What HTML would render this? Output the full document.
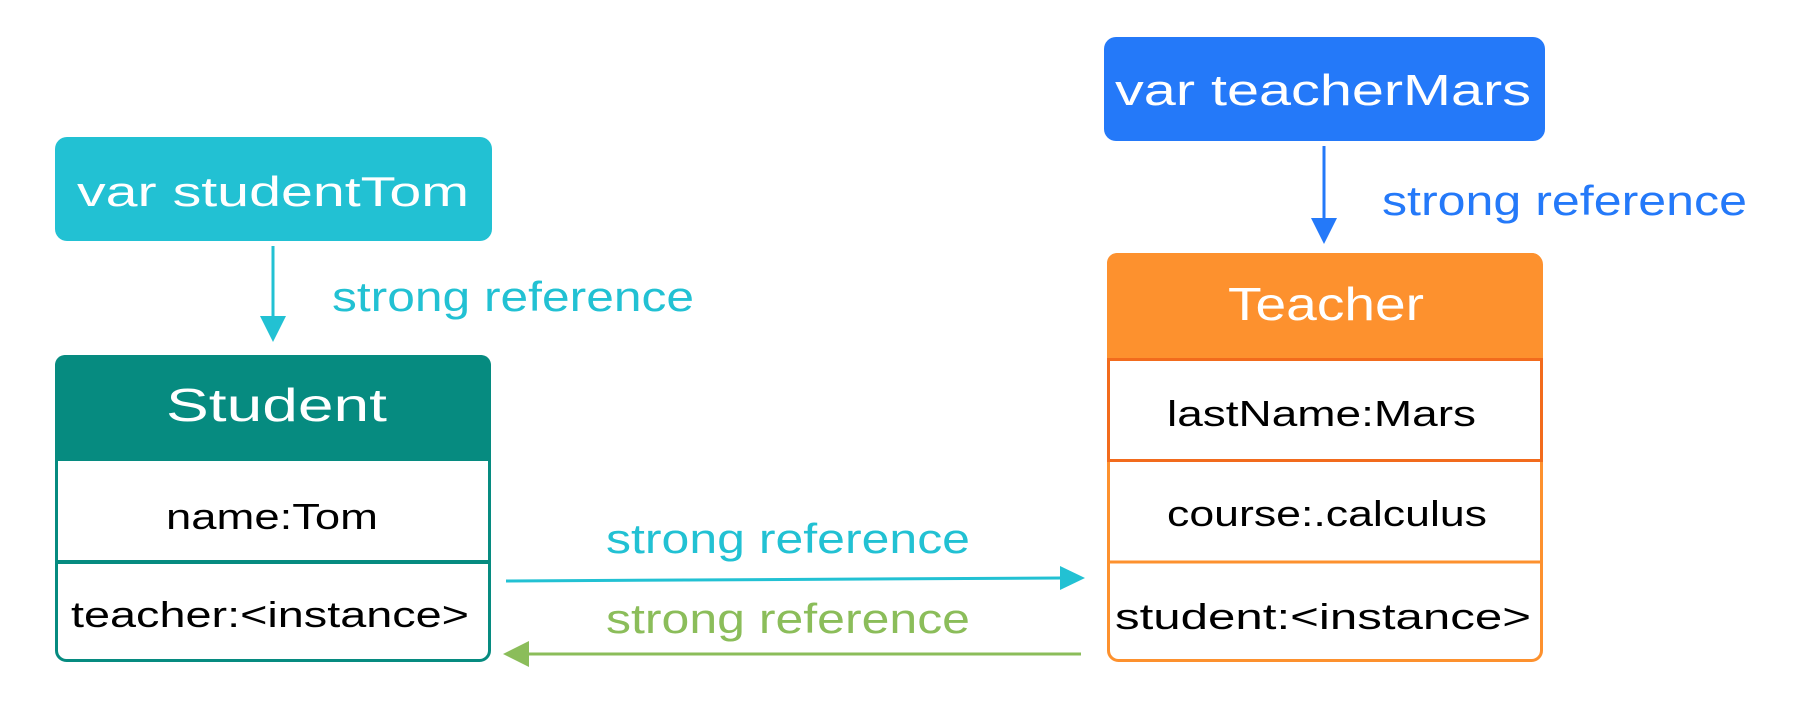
<!DOCTYPE html>
<html><head><meta charset="utf-8"><style>
html,body{margin:0;padding:0;background:#fff;}
svg{display:block;}
text{font-family:"Liberation Sans","DejaVu Sans",sans-serif;}
</style></head><body>
<svg width="1794" height="717" viewBox="0 0 1794 717" xmlns="http://www.w3.org/2000/svg">
<!-- var studentTom -->
<rect x="55" y="137" width="437" height="104" rx="12" fill="#22c1d3"/>
<text x="77" y="206" font-size="42" fill="#fff" textLength="392" lengthAdjust="spacingAndGlyphs">var studentTom</text>
<line x1="273" y1="246" x2="273" y2="318" stroke="#22c1d3" stroke-width="3"/>
<polygon points="260,316 286,316 273,342" fill="#22c1d3"/>
<text x="332" y="311" font-size="42" fill="#22c1d3" textLength="362" lengthAdjust="spacingAndGlyphs">strong reference</text>

<!-- Student -->
<rect x="56.5" y="356.5" width="433" height="304" rx="10" fill="#fff" stroke="#068b80" stroke-width="3"/>
<path d="M55,461 V365 a10,10 0 0 1 10,-10 H481 a10,10 0 0 1 10,10 V461 Z" fill="#068b80"/>
<line x1="55" y1="562" x2="491" y2="562" stroke="#068b80" stroke-width="4"/>
<text x="166" y="421" font-size="46" fill="#fff" textLength="221" lengthAdjust="spacingAndGlyphs">Student</text>
<text x="166" y="529" font-size="36" fill="#000" textLength="212" lengthAdjust="spacingAndGlyphs">name:Tom</text>
<text x="71" y="627" font-size="36" fill="#000" textLength="398" lengthAdjust="spacingAndGlyphs">teacher:&lt;instance&gt;</text>

<!-- middle arrows -->
<line x1="506" y1="581" x2="1062" y2="578" stroke="#22c1d3" stroke-width="3"/>
<polygon points="1060,566 1085,578 1060,590" fill="#22c1d3"/>
<text x="606" y="553" font-size="42" fill="#22c1d3" textLength="364" lengthAdjust="spacingAndGlyphs">strong reference</text>
<text x="606" y="633" font-size="42" fill="#8bbd5a" textLength="364" lengthAdjust="spacingAndGlyphs">strong reference</text>
<line x1="1081" y1="654" x2="526" y2="654" stroke="#8bbd5a" stroke-width="3"/>
<polygon points="529,641 503,654 529,667" fill="#8bbd5a"/>

<!-- var teacherMars -->
<rect x="1104" y="37" width="441" height="104" rx="12" fill="#2479f9"/>
<text x="1115" y="105" font-size="44" fill="#fff" textLength="416" lengthAdjust="spacingAndGlyphs">var teacherMars</text>
<line x1="1324" y1="146" x2="1324" y2="220" stroke="#2479f9" stroke-width="3"/>
<polygon points="1311,218 1337,218 1324,244" fill="#2479f9"/>
<text x="1382" y="215" font-size="42" fill="#2479f9" textLength="365" lengthAdjust="spacingAndGlyphs">strong reference</text>

<!-- Teacher -->
<rect x="1108.5" y="254.5" width="433" height="406" rx="10" fill="#fff" stroke="#fd912e" stroke-width="3"/>
<path d="M1107,358 V263 a10,10 0 0 1 10,-10 H1532 a10,10 0 0 1 10,10 V358 Z" fill="#fd912e"/>
<rect x="1108.5" y="359.5" width="433" height="101" fill="#fff" stroke="#f26b1d" stroke-width="3"/>
<line x1="1107" y1="562" x2="1542" y2="562" stroke="#fd912e" stroke-width="3"/>
<text x="1228" y="320" font-size="46" fill="#fff" textLength="196" lengthAdjust="spacingAndGlyphs">Teacher</text>
<text x="1167" y="426" font-size="36" fill="#000" textLength="309" lengthAdjust="spacingAndGlyphs">lastName:Mars</text>
<text x="1167" y="526" font-size="36" fill="#000" textLength="320" lengthAdjust="spacingAndGlyphs">course:.calculus</text>
<text x="1115" y="629" font-size="36" fill="#000" textLength="416" lengthAdjust="spacingAndGlyphs">student:&lt;instance&gt;</text>
</svg>
</body></html>
